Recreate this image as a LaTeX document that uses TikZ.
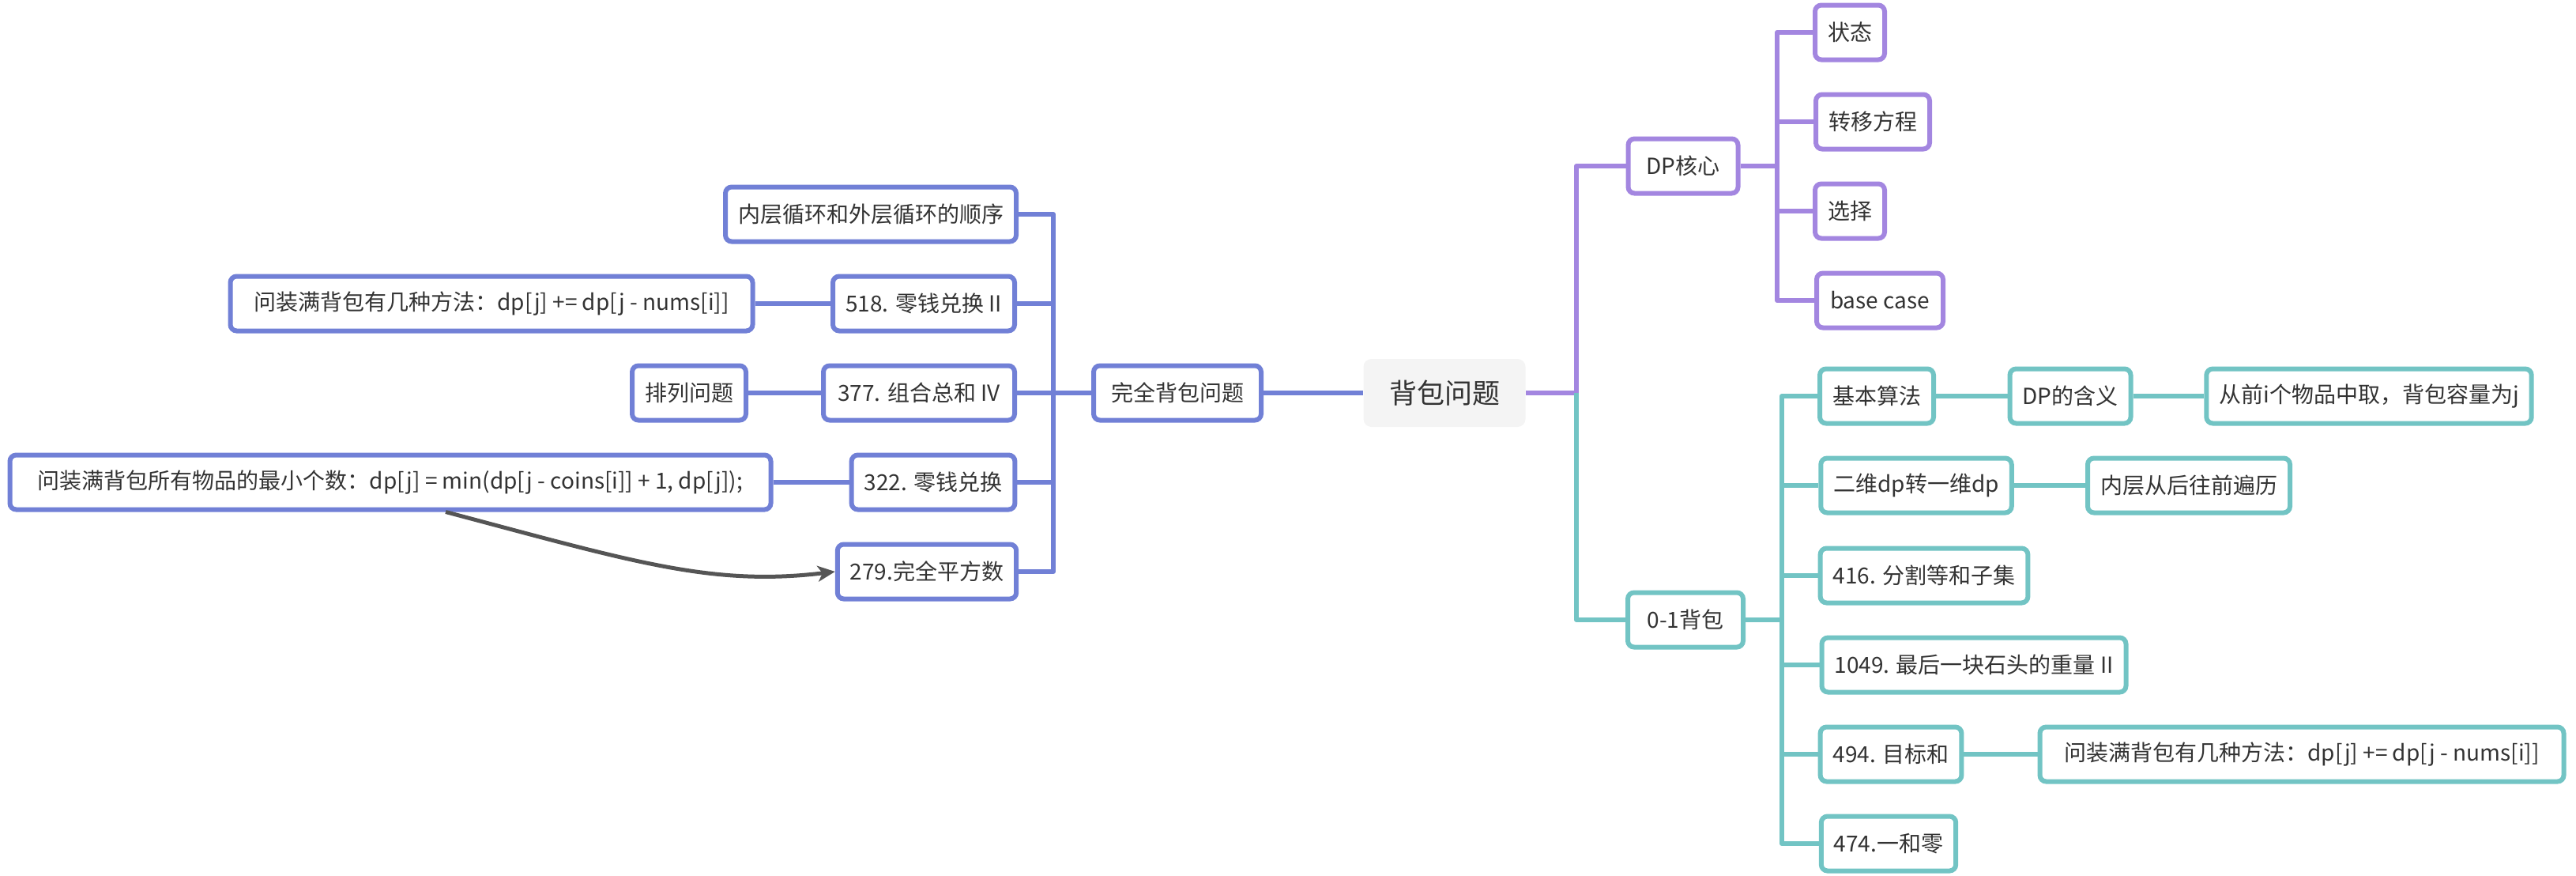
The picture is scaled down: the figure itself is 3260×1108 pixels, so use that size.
\documentclass[tikz,border=0pt]{standalone}
\usepackage{fontspec}
\newfontfamily\cjk{Noto Sans CJK SC}
\usetikzlibrary{arrows.meta}
\definecolor{pur}{RGB}{163,134,224}
\definecolor{blu}{RGB}{113,128,214}
\definecolor{tea}{RGB}{114,196,196}
\definecolor{txt}{RGB}{51,51,51}
\definecolor{cen}{RGB}{244,244,244}
\definecolor{arr}{RGB}{85,85,85}
\begin{document}
\begin{tikzpicture}[x=0.5pt,y=-0.5pt,
  box/.style={draw=#1, line width=3pt, rounded corners=4pt, fill=white,
    font=\cjk\fontsize{14pt}{17pt}\selectfont, text=txt,
    minimum height=34.5pt, inner xsep=8pt, inner ysep=0pt},
  bw/.style={minimum width=#1*0.5pt-3pt},
  ln/.style={draw=#1, line width=3pt, line join=round},
  arrowline/.style={draw=arr, line width=2.5pt, -{Stealth[length=11pt,width=10pt,inset=3pt]}},
]
\useasboundingbox (0,0) rectangle (3260,1108);

% central
\node[fill=cen, rounded corners=5pt, minimum width=102.5pt, minimum height=43pt,
  inner sep=0pt, font=\cjk\fontsize{17.5pt}{21pt}\selectfont, text=txt] (c) at (1828,497) {背包问题};

% ---------- left (blue) ----------
\node[box=blu, bw=218] (full) at (1490,497) {完全背包问题};
\node[box=blu, bw=371] (L1) at (1102,271) {内层循环和外层循环的顺序};
\node[box=blu, bw=236] (L2) at (1169,384) {518. 零钱兑换 II};
\node[box=blu, bw=667] (L2a) at (622,384) {问装满背包有几种方法：dp[j] += dp[j - nums[i]]};
\node[box=blu, bw=248] (L3) at (1163,497) {377. 组合总和 IV};
\node[box=blu, bw=147] (L3a) at (872,497) {排列问题};
\node[box=blu, bw=211] (L4) at (1181,610) {322. 零钱兑换};
\node[box=blu, bw=969] (L4a) at (494,610) {问装满背包所有物品的最小个数：dp[j] = min(dp[j - coins[i]] + 1, dp[j]);};
\node[box=blu, bw=226] (L5) at (1173,723) {279.完全平方数};

\coordinate (lb) at (1333,497);
\draw[ln=blu] (c.west) -- (full.east);
\draw[ln=blu] (full.west) -- (lb);
\draw[ln=blu] (lb) |- (L1.east);
\draw[ln=blu] (lb) |- (L2.east);
\draw[ln=blu] (lb) -- (L3.east);
\draw[ln=blu] (lb) |- (L4.east);
\draw[ln=blu] (lb) |- (L5.east);
\draw[ln=blu] (L2.west) -- (L2a.east);
\draw[ln=blu] (L3.west) -- (L3a.east);
\draw[ln=blu] (L4.west) -- (L4a.east);
\draw[arrowline] ([xshift=35pt]L4a.south) .. controls (800,710) and (900,742) .. (L5.west);

% ---------- right top (purple) ----------
\node[box=pur, bw=145] (dp) at (2130,210) {DP核心};
\node[box=pur, bw=91] (s1) at (2341,41) {状态};
\node[box=pur, bw=147] (s2) at (2370,154) {转移方程};
\node[box=pur, bw=91] (s3) at (2341,267) {选择};
\node[box=pur, bw=166] (s4) at (2379,380) {base case};

\coordinate (tr) at (1995,497);
\coordinate (pb) at (2249,210);
\draw[ln=pur] (c.east) -- (tr);
\draw[ln=pur] (tr) |- (dp.west);
\draw[ln=pur] (dp.east) -- (pb);
\draw[ln=pur] (pb) |- (s1.west);
\draw[ln=pur] (pb) |- (s2.west);
\draw[ln=pur] (pb) |- (s3.west);
\draw[ln=pur] (pb) |- (s4.west);

% ---------- right bottom (teal) ----------
\node[box=tea, bw=152] (zo) at (2133,784) {0-1背包};
\node[box=tea, bw=144] (t1) at (2375,501) {基本算法};
\node[box=tea, bw=158] (t1a) at (2620,501) {DP的含义};
\node[box=tea, bw=407] (t1b) at (2998,501) {从前i个物品中取，背包容量为j};
\node[box=tea, bw=245] (t2) at (2425,614) {二维dp转一维dp};
\node[box=tea, bw=253] (t2a) at (2770,614) {内层从后往前遍历};
\node[box=tea, bw=265] (t3) at (2435,728) {416. 分割等和子集};
\node[box=tea, bw=391] (t4) at (2498,841) {1049. 最后一块石头的重量 II};
\node[box=tea, bw=180] (t5) at (2393,954) {494. 目标和};
\node[box=tea, bw=669] (t5a) at (2913,954) {问装满背包有几种方法：dp[j] += dp[j - nums[i]]};
\node[box=tea, bw=173] (t6) at (2390,1067) {474.一和零};

\coordinate (tb) at (2255,784);
\draw[ln=tea] (tr) |- (zo.west);
\draw[ln=tea] (zo.east) -- (tb);
\draw[ln=tea] (tb) |- (t1.west);
\draw[ln=tea] (tb) |- (t2.west);
\draw[ln=tea] (tb) |- (t3.west);
\draw[ln=tea] (tb) |- (t4.west);
\draw[ln=tea] (tb) |- (t5.west);
\draw[ln=tea] (tb) |- (t6.west);
\draw[ln=tea] (t1.east) -- (t1a.west);
\draw[ln=tea] (t1a.east) -- (t1b.west);
\draw[ln=tea] (t2.east) -- (t2a.west);
\draw[ln=tea] (t5.east) -- (t5a.west);
\end{tikzpicture}
\end{document}
